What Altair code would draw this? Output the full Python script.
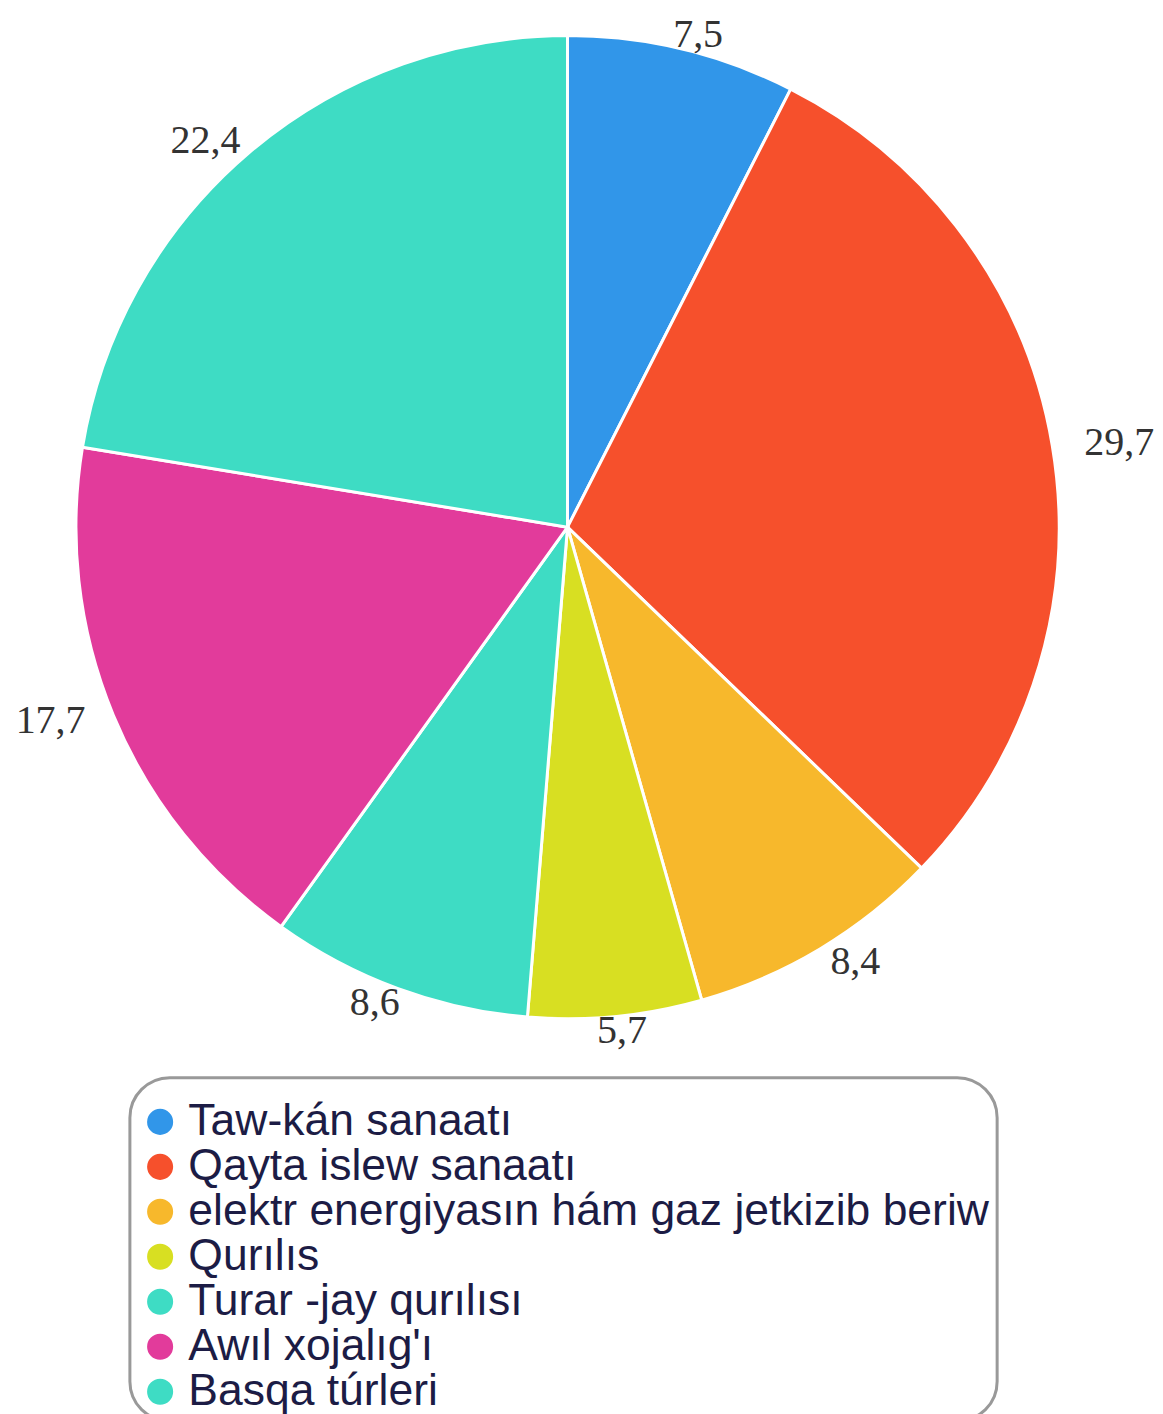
import altair as alt
import pandas as pd

categories = [
    "Taw-kán sanaatı",
    "Qayta islew sanaatı",
    "elektr energiyasın hám gaz jetkizib beriw",
    "Qurılıs",
    "Turar -jay qurılısı",
    "Awıl xojalıg'ı",
    "Basqa túrleri",
]
values = [7.5, 29.7, 8.4, 5.7, 8.6, 17.7, 22.4]
colors = ["#3196E9", "#F6502C", "#F7B82C", "#D8DF22", "#3EDCC4", "#E23B9B", "#3EDCC4"]

df = pd.DataFrame({"cat": categories, "val": values, "idx": list(range(len(values)))})

CX, CY, R = 560, 519, 492

base = alt.Chart(df)

pie = base.mark_arc(outerRadius=R, stroke="white", strokeWidth=3).encode(
    theta=alt.Theta("val:Q", stack=True),
    color=alt.Color(
        "cat:N",
        sort=categories,
        scale=alt.Scale(domain=categories, range=colors),
        legend=alt.Legend(
            title=" ",
            titleFontSize=10,
            titlePadding=4,
            orient="none",
            legendX=122,
            legendY=1070,
            padding=8,
            cornerRadius=40,
            strokeColor="#999999",
            symbolType="circle",
            symbolSize=680,
            symbolStrokeWidth=0,
            labelFont="Liberation Sans",
            labelFontSize=44.5,
            labelColor="#1c1c45",
            labelOffset=6,
            labelLimit=2000,
            rowPadding=0,
        ),
    ),
    order=alt.Order("idx:Q"),
    x=alt.value(CX),
    y=alt.value(CY),
)

labels = base.transform_joinaggregate(
    total="sum(val)"
).transform_window(
    cum="sum(val)", sort=[alt.SortField("idx")], frame=[None, 0]
).transform_calculate(
    mid="(datum.cum - datum.val/2)/datum.total*2*PI",
    lab="replace(format(datum.val, '.1f'), '.', ',')",
).transform_calculate(
    lx=f"{CX} + 560*sin(datum.mid)",
    ly=f"{CY} - 507*cos(datum.mid)",
).mark_text(
    font="Liberation Serif", fontSize=40, color="#333333", align="center", baseline="middle"
).encode(
    x=alt.X("lx:Q", scale=None, axis=None),
    y=alt.Y("ly:Q", scale=None, axis=None),
    text="lab:N",
)

chart = alt.layer(pie, labels).properties(
    width=1147, height=1060, padding=0
).configure_view(stroke=None).configure_legend(strokeWidth=3)

chart.save("out.html", embed_options={"renderer": "svg", "actions": False})
